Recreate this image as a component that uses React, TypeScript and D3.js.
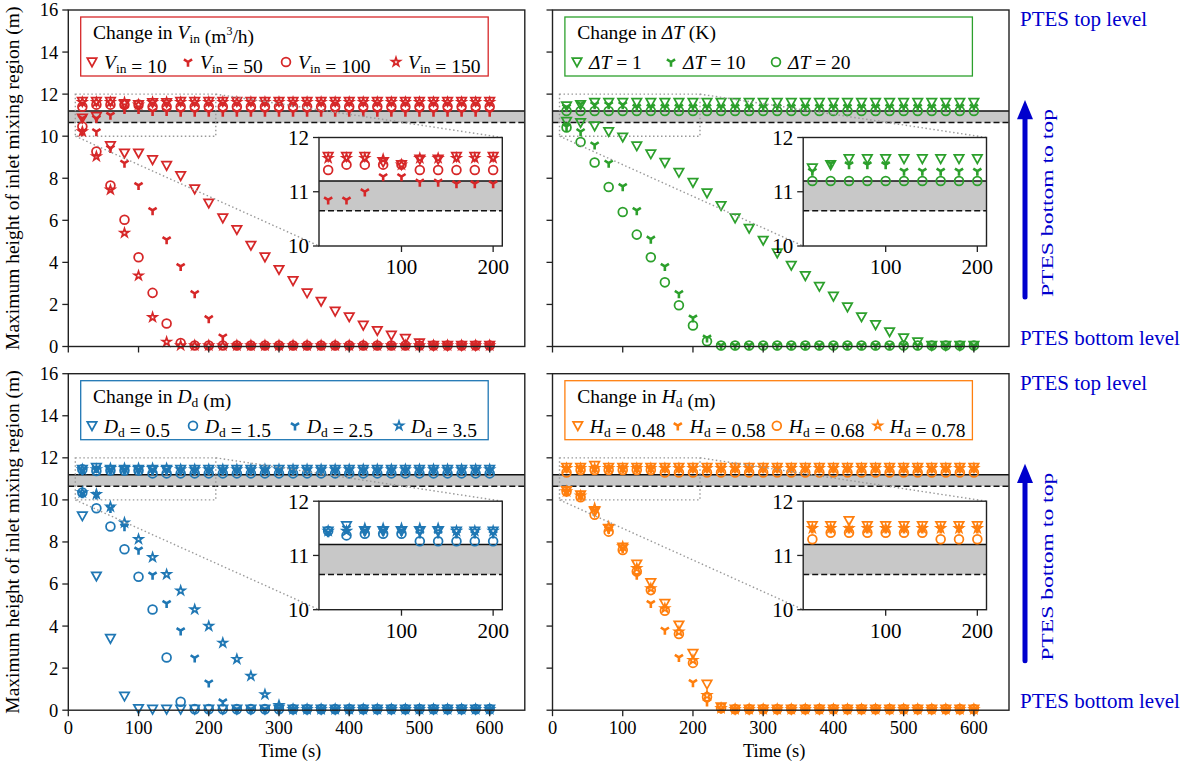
import React from "react";
import * as d3 from "d3";

// ---- data ----
const TIME = [20, 40, 60, 80, 100, 120, 140, 160, 180, 200, 220, 240, 260, 280, 300, 320, 340, 360, 380, 400, 420, 440, 460, 480, 500, 520, 540, 560, 580, 600];
const Y_TICKS = [0, 2, 4, 6, 8, 10, 12, 14, 16];
const X_TICKS = [0, 100, 200, 300, 400, 500, 600];
const INSET_Y_TICKS = [10, 11, 12];
const INSET_X_TICKS = [100, 200];

// Change in V_in
const VIN_LABELS = ["10", "50", "100", "150"];
const VIN10_UP = [11.65, 11.65, 11.65, 11.55, 11.5, 11.6, 11.6, 11.65, 11.65, 11.65, 11.65, 11.65, 11.65, 11.65, 11.65, 11.65, 11.65, 11.65, 11.65, 11.65, 11.65, 11.65, 11.65, 11.65, 11.65, 11.65, 11.65, 11.65, 11.65, 11.65];
const VIN50_UP = [10.85, 10.85, 11.0, 11.28, 11.28, 11.18, 11.18, 11.15, 11.15, 11.15, 11.15, 11.15, 11.15, 11.15, 11.15, 11.15, 11.15, 11.15, 11.15, 11.15, 11.15, 11.15, 11.15, 11.15, 11.15, 11.15, 11.15, 11.15, 11.15, 11.15];
const VIN100_UP = [11.4, 11.5, 11.5, 11.5, 11.5, 11.4, 11.4, 11.4, 11.4, 11.4, 11.4, 11.4, 11.4, 11.4, 11.4, 11.4, 11.4, 11.4, 11.4, 11.4, 11.4, 11.4, 11.4, 11.4, 11.4, 11.4, 11.4, 11.4, 11.4, 11.4];
const VIN150_UP = [11.62, 11.62, 11.62, 11.6, 11.5, 11.62, 11.62, 11.62, 11.62, 11.62, 11.62, 11.62, 11.62, 11.62, 11.62, 11.62, 11.62, 11.62, 11.62, 11.62, 11.62, 11.62, 11.62, 11.62, 11.62, 11.62, 11.62, 11.62, 11.62, 11.62];
const VIN10_LOW = [10.86, 10.94, 9.55, 9.2, 9.2, 8.88, 8.61, 8.12, 7.49, 6.82, 6.11, 5.56, 4.81, 4.26, 3.66, 3.13, 2.55, 2.15, 1.68, 1.41, 1.01, 0.76, 0.54, 0.38, 0.17, 0.05, 0.05, 0.05, 0.05, 0.05];
const VIN50_LOW = [10.22, 10.22, 9.43, 8.72, 7.66, 6.47, 5.08, 3.81, 2.52, 1.33, 0.46, 0.05, 0.05, 0.05, 0.05, 0.05, 0.05, 0.05, 0.05, 0.05, 0.05, 0.05, 0.05, 0.05, 0.05, 0.05, 0.05, 0.05, 0.05, 0.05];
const VIN100_LOW = [10.46, 9.27, 7.66, 6.03, 4.24, 2.55, 1.09, 0.17, 0.05, 0.05, 0.05, 0.05, 0.05, 0.05, 0.05, 0.05, 0.05, 0.05, 0.05, 0.05, 0.05, 0.05, 0.05, 0.05, 0.05, 0.05, 0.05, 0.05, 0.05, 0.05];
const VIN150_LOW = [10.22, 9.04, 7.45, 5.4, 3.37, 1.39, 0.22, 0.05, 0.05, 0.05, 0.05, 0.05, 0.05, 0.05, 0.05, 0.05, 0.05, 0.05, 0.05, 0.05, 0.05, 0.05, 0.05, 0.05, 0.05, 0.05, 0.05, 0.05, 0.05, 0.05];

// Change in dT
const DT_LABELS = ["1", "10", "20"];
const DT1_UP = [11.44, 11.5, 11.61, 11.61, 11.61, 11.61, 11.61, 11.61, 11.61, 11.61, 11.61, 11.61, 11.61, 11.61, 11.61, 11.61, 11.61, 11.61, 11.61, 11.61, 11.61, 11.61, 11.61, 11.61, 11.61, 11.61, 11.61, 11.61, 11.61, 11.61];
const DT10_UP = [11.38, 11.52, 11.5, 11.5, 11.5, 11.38, 11.38, 11.38, 11.38, 11.38, 11.38, 11.38, 11.38, 11.38, 11.38, 11.38, 11.38, 11.38, 11.38, 11.38, 11.38, 11.38, 11.38, 11.38, 11.38, 11.38, 11.38, 11.38, 11.38, 11.38];
const DT20_UP = [11.2, 11.2, 11.2, 11.2, 11.2, 11.2, 11.2, 11.2, 11.2, 11.2, 11.2, 11.2, 11.2, 11.2, 11.2, 11.2, 11.2, 11.2, 11.2, 11.2, 11.2, 11.2, 11.2, 11.2, 11.2, 11.2, 11.2, 11.2, 11.2, 11.2];
const DT1_LOW = [10.7, 10.65, 10.49, 10.22, 9.96, 9.54, 9.16, 8.75, 8.28, 7.8, 7.3, 6.7, 6.11, 5.62, 5.05, 4.45, 3.86, 3.37, 2.86, 2.39, 1.88, 1.41, 1.04, 0.7, 0.41, 0.22, 0.05, 0.05, 0.05, 0.05];
const DT10_LOW = [10.46, 10.22, 9.59, 8.72, 7.61, 6.47, 5.11, 3.81, 2.52, 1.36, 0.41, 0.05, 0.05, 0.05, 0.05, 0.05, 0.05, 0.05, 0.05, 0.05, 0.05, 0.05, 0.05, 0.05, 0.05, 0.05, 0.05, 0.05, 0.05, 0.05];
const DT20_LOW = [10.41, 9.72, 8.75, 7.58, 6.4, 5.32, 4.24, 3.05, 1.96, 1.0, 0.25, 0.05, 0.05, 0.05, 0.05, 0.05, 0.05, 0.05, 0.05, 0.05, 0.05, 0.05, 0.05, 0.05, 0.05, 0.05, 0.05, 0.05, 0.05, 0.05];

// Change in D_d
const DD_LABELS = ["0.5", "1.5", "2.5", "3.5"];
const DD05_UP = [11.45, 11.55, 11.45, 11.45, 11.45, 11.45, 11.45, 11.45, 11.45, 11.45, 11.45, 11.45, 11.45, 11.45, 11.45, 11.45, 11.45, 11.45, 11.45, 11.45, 11.45, 11.45, 11.45, 11.45, 11.45, 11.45, 11.45, 11.45, 11.45, 11.45];
const DD15_UP = [11.45, 11.37, 11.4, 11.4, 11.4, 11.26, 11.26, 11.26, 11.26, 11.26, 11.26, 11.26, 11.26, 11.26, 11.26, 11.26, 11.26, 11.26, 11.26, 11.26, 11.26, 11.26, 11.26, 11.26, 11.26, 11.26, 11.26, 11.26, 11.26, 11.26];
const DD25_UP = [11.42, 11.5, 11.45, 11.45, 11.45, 11.4, 11.4, 11.4, 11.4, 11.4, 11.4, 11.4, 11.4, 11.4, 11.4, 11.4, 11.4, 11.4, 11.4, 11.4, 11.4, 11.4, 11.4, 11.4, 11.4, 11.4, 11.4, 11.4, 11.4, 11.4];
const DD35_UP = [11.45, 11.45, 11.5, 11.5, 11.5, 11.5, 11.5, 11.45, 11.45, 11.45, 11.45, 11.45, 11.45, 11.45, 11.45, 11.45, 11.45, 11.45, 11.45, 11.45, 11.45, 11.45, 11.45, 11.45, 11.45, 11.45, 11.45, 11.45, 11.45, 11.45];
const DD05_LOW = [9.24, 6.38, 3.41, 0.67, 0.08, 0.05, 0.05, 0.05, 0.05, 0.05, 0.05, 0.05, 0.05, 0.05, 0.05, 0.05, 0.05, 0.05, 0.05, 0.05, 0.05, 0.05, 0.05, 0.05, 0.05, 0.05, 0.05, 0.05, 0.05, 0.05];
const DD15_LOW = [10.35, 9.6, 8.73, 7.65, 6.35, 4.79, 2.51, 0.4, 0.05, 0.05, 0.05, 0.05, 0.05, 0.05, 0.05, 0.05, 0.05, 0.05, 0.05, 0.05, 0.05, 0.05, 0.05, 0.05, 0.05, 0.05, 0.05, 0.05, 0.05, 0.05];
const DD25_LOW = [10.3, 10.24, 9.6, 8.73, 7.62, 6.43, 5.08, 3.78, 2.49, 1.3, 0.4, 0.05, 0.05, 0.05, 0.05, 0.05, 0.05, 0.05, 0.05, 0.05, 0.05, 0.05, 0.05, 0.05, 0.05, 0.05, 0.05, 0.05, 0.05, 0.05];
const DD35_LOW = [10.35, 10.27, 9.68, 8.92, 8.13, 7.27, 6.46, 5.68, 4.79, 4.0, 3.2, 2.43, 1.63, 0.75, 0.24, 0.05, 0.05, 0.05, 0.05, 0.05, 0.05, 0.05, 0.05, 0.05, 0.05, 0.05, 0.05, 0.05, 0.05, 0.05];

// Change in H_d
const HD_LABELS = ["0.48", "0.58", "0.68", "0.78"];
const HD48_UP = [11.55, 11.55, 11.64, 11.55, 11.55, 11.55, 11.55, 11.55, 11.55, 11.55, 11.55, 11.55, 11.55, 11.55, 11.55, 11.55, 11.55, 11.55, 11.55, 11.55, 11.55, 11.55, 11.55, 11.55, 11.55, 11.55, 11.55, 11.55, 11.55, 11.55];
const HD58_UP = [11.49, 11.49, 11.49, 11.49, 11.49, 11.49, 11.49, 11.49, 11.49, 11.49, 11.49, 11.49, 11.49, 11.49, 11.49, 11.49, 11.49, 11.49, 11.49, 11.49, 11.49, 11.49, 11.49, 11.49, 11.49, 11.49, 11.49, 11.49, 11.49, 11.49];
const HD68_UP = [11.3, 11.42, 11.42, 11.42, 11.42, 11.42, 11.42, 11.3, 11.3, 11.3, 11.3, 11.3, 11.3, 11.3, 11.3, 11.3, 11.3, 11.3, 11.3, 11.3, 11.3, 11.3, 11.3, 11.3, 11.3, 11.3, 11.3, 11.3, 11.3, 11.3];
const HD78_UP = [11.5, 11.5, 11.5, 11.5, 11.5, 11.5, 11.5, 11.5, 11.5, 11.5, 11.5, 11.5, 11.5, 11.5, 11.5, 11.5, 11.5, 11.5, 11.5, 11.5, 11.5, 11.5, 11.5, 11.5, 11.5, 11.5, 11.5, 11.5, 11.5, 11.5];
const HD48_LOW = [10.44, 10.24, 9.44, 8.65, 7.75, 6.95, 6.06, 5.08, 4.05, 2.7, 1.24, 0.16, 0.05, 0.05, 0.05, 0.05, 0.05, 0.05, 0.05, 0.05, 0.05, 0.05, 0.05, 0.05, 0.05, 0.05, 0.05, 0.05, 0.05, 0.05];
const HD58_LOW = [10.4, 10.2, 9.5, 8.6, 7.7, 6.43, 5.08, 3.81, 2.51, 1.32, 0.4, 0.05, 0.05, 0.05, 0.05, 0.05, 0.05, 0.05, 0.05, 0.05, 0.05, 0.05, 0.05, 0.05, 0.05, 0.05, 0.05, 0.05, 0.05, 0.05];
const HD68_LOW = [10.4, 10.13, 9.29, 8.49, 7.62, 6.59, 5.71, 4.73, 3.62, 2.25, 0.63, 0.1, 0.05, 0.05, 0.05, 0.05, 0.05, 0.05, 0.05, 0.05, 0.05, 0.05, 0.05, 0.05, 0.05, 0.05, 0.05, 0.05, 0.05, 0.05];
const HD78_LOW = [10.4, 10.2, 9.6, 8.73, 7.78, 6.75, 5.79, 4.84, 3.73, 2.38, 0.71, 0.1, 0.05, 0.05, 0.05, 0.05, 0.05, 0.05, 0.05, 0.05, 0.05, 0.05, 0.05, 0.05, 0.05, 0.05, 0.05, 0.05, 0.05, 0.05];

const BAND = [10.65, 11.2];
const ZOOM_X = [10, 210];
const ZOOM_Y = [10, 12];

// ---- layout ----
const FONT = "'Liberation Serif', 'Times New Roman', serif";
const PW = 456.5;
const PH = 336.5;
const LEFTS = [68.3, 552.5];
const TOPS = [10, 373.7];
const INSET = { x0: 250.7, x1: 434, y0: 127.5, y1: 236 };
const TICK_FS = 18.5;
const LEG_FS = 19.5;

const RED = "#d62728";
const GREEN = "#2ca02c";
const BLUE = "#1f77b4";
const ORANGE = "#ff7f0e";
const TEXT_BLUE = "#0000cd";

function markerPath(shape, s = 4.7) {
  if (shape === "tri") return `M${-s},${-s * 0.8}L${s},${-s * 0.8}L0,${s}Z`;
  if (shape === "y")
    return `M0,0L0,${s}M0,0L${-0.87 * s},${-0.55 * s}M0,0L${0.87 * s},${-0.55 * s}`;
  if (shape === "circle") return d3.symbol(d3.symbolCircle, Math.PI * 4.4 * 4.4)();
  return d3.symbol(d3.symbolStar, 22)();
}

function Marker({ shape, cx, cy, color }) {
  return (
    <path
      d={markerPath(shape)}
      transform={`translate(${cx},${cy})`}
      fill="none"
      stroke={color}
      strokeWidth={shape === "y" ? 2.6 : shape === "star" ? 1.7 : 1.75}
    />
  );
}

// variable name pieces for the legends
function VarName({ v }) {
  if (v === "vin")
    return (
      <>
        <tspan fontStyle="italic">V</tspan>
        <tspan fontSize={13.5} dy={4}>in</tspan>
        <tspan dy={-4}></tspan>
      </>
    );
  if (v === "dt") return <tspan fontStyle="italic">ΔT</tspan>;
  const letter = v === "dd" ? "D" : "H";
  return (
    <>
      <tspan fontStyle="italic">{letter}</tspan>
      <tspan fontSize={13.5} dy={4}>d</tspan>
      <tspan dy={-4}></tspan>
    </>
  );
}

function Legend({ cfg }) {
  return (
    <g>
      <rect x={12.4} y={7} width={407.5} height={59} fill="white" stroke={cfg.color} strokeWidth={1.3} />
      <text x={24.7} y={29} fontSize={LEG_FS} fontFamily={FONT}>
        <tspan>Change in </tspan>
        <VarName v={cfg.key} />
        {cfg.key === "vin" ? (
          <>
            <tspan> (m</tspan>
            <tspan fontSize={12} dy={-8}>3</tspan>
            <tspan dy={8}>/h)</tspan>
          </>
        ) : (
          <tspan>{cfg.unit}</tspan>
        )}
      </text>
      {cfg.series.map((s, i) => (
        <g key={i}>
          <Marker shape={s.shape} cx={cfg.legendX[i]} cy={52} color={cfg.color} />
          <text x={cfg.legendX[i] + 12} y={59} fontSize={LEG_FS} fontFamily={FONT}>
            <VarName v={cfg.key} />
            <tspan> = {s.label}</tspan>
          </text>
        </g>
      ))}
    </g>
  );
}

function Panel({ cfg, left, top, showX, showY }) {
  const x = d3.scaleLinear().domain([0, 650]).range([0, PW]);
  const y = d3.scaleLinear().domain([0, 16]).range([PH, 0]);
  const ix = d3.scaleLinear().domain(ZOOM_X).range([INSET.x0, INSET.x1]);
  const iy = d3.scaleLinear().domain(ZOOM_Y).range([INSET.y1, INSET.y0]);
  const inTimes = TIME.filter((t) => t <= 200);

  return (
    <g transform={`translate(${left},${top})`} fontFamily={FONT}>
      {/* band between dashed and solid lines */}
      <rect x={0} y={y(BAND[1])} width={PW} height={y(BAND[0]) - y(BAND[1])} fill="#c8c8c8" />
      <line x1={0} x2={PW} y1={y(BAND[1])} y2={y(BAND[1])} stroke="#111" strokeWidth={1.5} />
      <line x1={0} x2={PW} y1={y(BAND[0])} y2={y(BAND[0])} stroke="#111" strokeWidth={1.5} strokeDasharray="6,3" />

      {/* zoom rectangle */}
      <rect
        x={x(ZOOM_X[0])}
        y={y(ZOOM_Y[1])}
        width={x(ZOOM_X[1]) - x(ZOOM_X[0])}
        height={y(ZOOM_Y[0]) - y(ZOOM_Y[1])}
        fill="none"
        stroke="#999"
        strokeWidth={1.4}
        strokeDasharray="1.5,2.5"
      />

      {cfg.series.map((s, si) => (
        <g key={si}>
          {TIME.map((t, i) => (
            <Marker key={"l" + i} shape={s.shape} cx={x(t)} cy={y(s.low[i])} color={cfg.color} />
          ))}
          {TIME.map((t, i) => (
            <Marker key={"u" + i} shape={s.shape} cx={x(t)} cy={y(s.up[i])} color={cfg.color} />
          ))}
        </g>
      ))}

      {/* connector lines */}
      <line x1={x(ZOOM_X[1])} y1={y(ZOOM_Y[1])} x2={INSET.x1} y2={INSET.y0} stroke="#999" strokeWidth={1.4} strokeDasharray="1.5,2.5" />
      <line x1={x(ZOOM_X[0])} y1={y(ZOOM_Y[0])} x2={INSET.x0} y2={INSET.y1} stroke="#999" strokeWidth={1.4} strokeDasharray="1.5,2.5" />

      {/* inset */}
      <rect x={INSET.x0} y={INSET.y0} width={INSET.x1 - INSET.x0} height={INSET.y1 - INSET.y0} fill="white" />
      <rect x={INSET.x0} y={iy(BAND[1])} width={INSET.x1 - INSET.x0} height={iy(BAND[0]) - iy(BAND[1])} fill="#c8c8c8" />
      <line x1={INSET.x0} x2={INSET.x1} y1={iy(BAND[1])} y2={iy(BAND[1])} stroke="#111" strokeWidth={1.5} />
      <line x1={INSET.x0} x2={INSET.x1} y1={iy(BAND[0])} y2={iy(BAND[0])} stroke="#111" strokeWidth={1.5} strokeDasharray="6,3" />
      {cfg.series.map((s, si) => (
        <g key={"i" + si}>
          {inTimes.map((t, i) => (
            <Marker key={i} shape={s.shape} cx={ix(t)} cy={iy(s.up[i])} color={cfg.color} />
          ))}
        </g>
      ))}
      <rect x={INSET.x0} y={INSET.y0} width={INSET.x1 - INSET.x0} height={INSET.y1 - INSET.y0} fill="none" stroke="#222" strokeWidth={1.4} />
      {INSET_Y_TICKS.map((v) => (
        <g key={"iy" + v}>
          <line x1={INSET.x0 - 6} x2={INSET.x0} y1={iy(v)} y2={iy(v)} stroke="#222" strokeWidth={1.3} />
          <text x={INSET.x0 - 10} y={iy(v)} dy="0.35em" textAnchor="end" fontSize={21}>{v}</text>
        </g>
      ))}
      {INSET_X_TICKS.map((v) => (
        <g key={"ix" + v}>
          <line x1={ix(v)} x2={ix(v)} y1={INSET.y1} y2={INSET.y1 + 6} stroke="#222" strokeWidth={1.3} />
          <text x={ix(v)} y={INSET.y1 + 28} textAnchor="middle" fontSize={21}>{v}</text>
        </g>
      ))}

      {/* axes frame */}
      <rect x={0} y={0} width={PW} height={PH} fill="none" stroke="#222" strokeWidth={1.4} />
      {Y_TICKS.map((v) => (
        <g key={"y" + v}>
          <line x1={-6} x2={0} y1={y(v)} y2={y(v)} stroke="#222" strokeWidth={1.3} />
          {showY && (
            <text x={-10} y={y(v)} dy="0.35em" textAnchor="end" fontSize={TICK_FS}>{v}</text>
          )}
        </g>
      ))}
      {X_TICKS.map((v) => (
        <g key={"x" + v}>
          <line x1={x(v)} x2={x(v)} y1={PH} y2={PH + 6} stroke="#222" strokeWidth={1.3} />
          {showX && (
            <text x={x(v)} y={PH + 24} textAnchor="middle" fontSize={TICK_FS}>{v}</text>
          )}
        </g>
      ))}
      {showX && (
        <text x={x(300) + 11} y={PH + 47} textAnchor="middle" fontSize={TICK_FS}>Time (s)</text>
      )}
      {showY && (
        <text
          transform={`translate(${-49},${PH / 2}) rotate(-90)`}
          textAnchor="middle"
          fontSize={19.5}
        >
          Maximum height of inlet mixing region (m)
        </text>
      )}

      <Legend cfg={cfg} />
    </g>
  );
}

function SideNote({ top }) {
  const y = d3.scaleLinear().domain([0, 16]).range([PH, 0]);
  const ax = 1025;
  return (
    <g transform={`translate(0,${top})`} fontFamily={FONT} fill={TEXT_BLUE}>
      <text x={1020} y={y(16) + 16} fontSize={21}>PTES top level</text>
      <text x={1020} y={y(0) - 2} fontSize={21}>PTES bottom level</text>
      <line x1={ax} x2={ax} y1={y(2.35)} y2={y(10.9)} stroke={TEXT_BLUE} strokeWidth={5} strokeLinecap="round" />
      <path d={`M${ax - 8},${y(10.8)}L${ax + 8},${y(10.8)}L${ax},${y(11.72)}Z`} fill={TEXT_BLUE} />
      <text
        transform={`translate(${1053},${y(2.35)}) rotate(-90)`}
        fontSize={17.5}
        textLength={188}
        lengthAdjust="spacingAndGlyphs"
      >
        PTES bottom to top
      </text>
    </g>
  );
}

const PANELS = [
  {
    key: "vin",
    color: RED,
    unit: "",
    legendX: [23.7, 119.7, 217.7, 327.7],
    series: [
      { shape: "tri", label: VIN_LABELS[0], up: VIN10_UP, low: VIN10_LOW },
      { shape: "y", label: VIN_LABELS[1], up: VIN50_UP, low: VIN50_LOW },
      { shape: "circle", label: VIN_LABELS[2], up: VIN100_UP, low: VIN100_LOW },
      { shape: "star", label: VIN_LABELS[3], up: VIN150_UP, low: VIN150_LOW },
    ],
  },
  {
    key: "dt",
    color: GREEN,
    unit: " (K)",
    legendX: [24.5, 118.5, 223.5],
    series: [
      { shape: "tri", label: DT_LABELS[0], up: DT1_UP, low: DT1_LOW },
      { shape: "y", label: DT_LABELS[1], up: DT10_UP, low: DT10_LOW },
      { shape: "circle", label: DT_LABELS[2], up: DT20_UP, low: DT20_LOW },
    ],
  },
  {
    key: "dd",
    color: BLUE,
    unit: " (m)",
    legendX: [23.7, 124.7, 226.7, 330.7],
    series: [
      { shape: "tri", label: DD_LABELS[0], up: DD05_UP, low: DD05_LOW },
      { shape: "circle", label: DD_LABELS[1], up: DD15_UP, low: DD15_LOW },
      { shape: "y", label: DD_LABELS[2], up: DD25_UP, low: DD25_LOW },
      { shape: "star", label: DD_LABELS[3], up: DD35_UP, low: DD35_LOW },
    ],
  },
  {
    key: "hd",
    color: ORANGE,
    unit: " (m)",
    legendX: [25.3, 125.3, 224.3, 325.3],
    series: [
      { shape: "tri", label: HD_LABELS[0], up: HD48_UP, low: HD48_LOW },
      { shape: "y", label: HD_LABELS[1], up: HD58_UP, low: HD58_LOW },
      { shape: "circle", label: HD_LABELS[2], up: HD68_UP, low: HD68_LOW },
      { shape: "star", label: HD_LABELS[3], up: HD78_UP, low: HD78_LOW },
    ],
  },
];

export default function App() {
  return (
    <svg
      width={1197}
      height={774}
      style={{ position: "absolute", left: 0, top: 0, background: "white" }}
    >
      {PANELS.map((cfg, i) => (
        <Panel
          key={cfg.key}
          cfg={cfg}
          left={LEFTS[i % 2]}
          top={TOPS[Math.floor(i / 2)]}
          showX={i >= 2}
          showY={i % 2 === 0}
        />
      ))}
      <SideNote top={TOPS[0]} />
      <SideNote top={TOPS[1]} />
    </svg>
  );
}
